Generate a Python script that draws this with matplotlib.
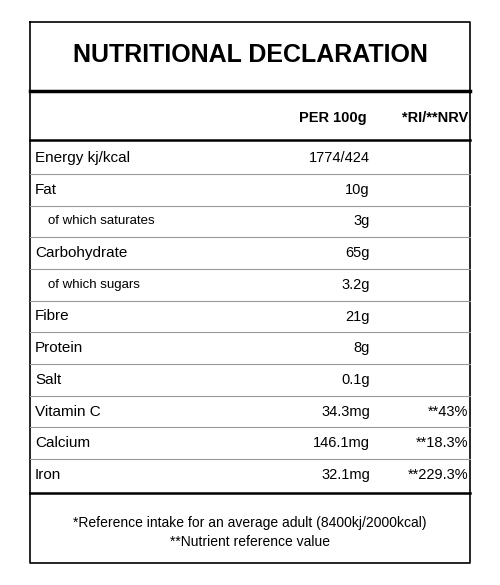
import matplotlib
matplotlib.use('Agg')
from matplotlib import pyplot as plt

title = "NUTRITIONAL DECLARATION"
headers = ["PER 100g", "*RI/**NRV"]
nutrients = ["Energy kj/kcal", "Fat", "of which saturates", "Carbohydrate", "of which sugars",
             "Fibre", "Protein", "Salt", "Vitamin C", "Calcium", "Iron"]
indented = [False, False, True, False, True, False, False, False, False, False, False]
per100 = ["1774/424", "10g", "3g", "65g", "3.2g", "21g", "8g", "0.1g", "34.3mg", "146.1mg", "32.1mg"]
nrv = ["", "", "", "", "", "", "", "", "**43%", "**18.3%", "**229.3%"]
footnotes = ["*Reference intake for an average adult (8400kj/2000kcal)", "**Nutrient reference value"]

plt.rcParams['font.family'] = ['Liberation Sans', 'DejaVu Sans']

fig = plt.figure(figsize=(5, 5.85), dpi=100)
ax = fig.add_axes([0, 0, 1, 1])
ax.set_xlim(0, 500)
ax.set_ylim(585, 0)
ax.axis('off')

L, R = 30, 470
# outer box
ax.plot([L, R, R, L, L], [22, 22, 563, 563, 22], color='black', lw=1.2)
ax.text(250, 55, title, ha='center', va='center', fontsize=18, fontweight='bold')
ax.plot([L, R], [91, 91], color='black', lw=2.5)
ax.text(367, 118, headers[0], ha='right', va='center', fontsize=10.5, fontweight='bold')
ax.text(468, 118, headers[1], ha='right', va='center', fontsize=10.5, fontweight='bold')
ax.plot([L, R], [140, 140], color='black', lw=1.8)

row_h = 31.7
y0 = 158
for i, name in enumerate(nutrients):
    y = y0 + i * row_h
    if indented[i]:
        ax.text(48, y, name, ha='left', va='center', fontsize=9.5)
    else:
        ax.text(L + 5, y, name, ha='left', va='center', fontsize=11)
    ax.text(370, y, per100[i], ha='right', va='center', fontsize=10.5)
    if nrv[i]:
        ax.text(468, y, nrv[i], ha='right', va='center', fontsize=10.5)
    ly = y + row_h / 2
    if i < len(nutrients) - 1:
        ax.plot([L, R], [ly, ly], color='#999999', lw=0.8)
    else:
        ax.plot([L, R], [ly + 2, ly + 2], color='black', lw=1.8)

ax.text(250, 523, footnotes[0], ha='center', va='center', fontsize=10)
ax.text(250, 542, footnotes[1], ha='center', va='center', fontsize=10)

fig.savefig('out.png', dpi=100)
